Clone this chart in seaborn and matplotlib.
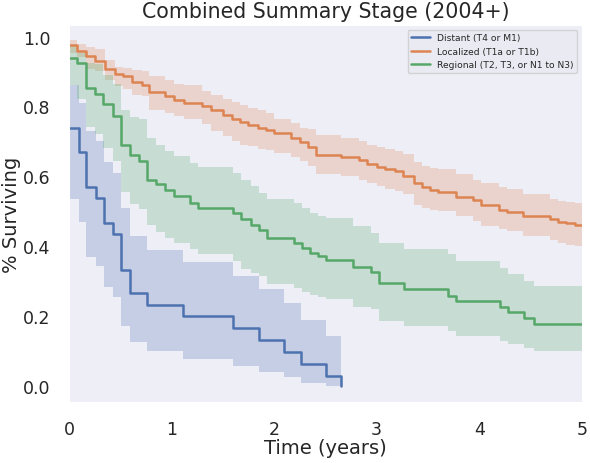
import numpy as np
import pandas as pd
import seaborn as sns
import matplotlib.pyplot as plt

sns.set_style("darkgrid")

stages = ["Distant (T4 or M1)", "Localized (T1a or T1b)", "Regional (T2, T3, or N1 to N3)"]
colors = ["#4C72B0", "#DD8452", "#55A868"]
end_time = 5.0

# Kaplan-Meier steps (time in years, survival, CI bounds)
distant_t = [0, 0.1, 0.17, 0.26, 0.34, 0.43, 0.51, 0.59, 0.76, 1.11, 1.6, 1.85, 2.1, 2.26, 2.51, 2.65]
distant_s = [0.737, 0.669, 0.569, 0.537, 0.466, 0.434, 0.331, 0.266, 0.231, 0.2, 0.166, 0.131, 0.097, 0.063, 0.029, 0.0]
distant_hi = [0.86, 0.81, 0.73, 0.70, 0.64, 0.61, 0.51, 0.43, 0.39, 0.354, 0.314, 0.277, 0.237, 0.189, 0.143, 0.0]
distant_lo = [0.534, 0.47, 0.37, 0.343, 0.283, 0.254, 0.171, 0.126, 0.1, 0.077, 0.057, 0.04, 0.026, 0.009, 0.0, 0.0]

local_t = [0, 0.08, 0.17, 0.25, 0.35, 0.45, 0.53, 0.61, 0.71, 0.78, 0.94, 1.02, 1.12, 1.30, 1.38,
           1.50, 1.59, 1.67, 1.75, 1.84, 1.92, 2.00, 2.16, 2.25, 2.33, 2.41, 2.65, 2.83, 2.91, 3.00,
           3.08, 3.18, 3.26, 3.36, 3.44, 3.52, 3.60, 3.77, 3.94, 4.02, 4.19, 4.27, 4.43, 4.69, 4.77,
           4.85, 4.93]
local_s = [0.977, 0.96, 0.944, 0.93, 0.906, 0.894, 0.886, 0.871, 0.861, 0.841, 0.829, 0.818, 0.811, 0.801, 0.789,
           0.775, 0.765, 0.755, 0.747, 0.739, 0.732, 0.723, 0.709, 0.697, 0.683, 0.661, 0.655, 0.646, 0.634, 0.627,
           0.62, 0.615, 0.601, 0.58, 0.571, 0.561, 0.555, 0.542, 0.532, 0.517, 0.504, 0.499, 0.487, 0.477, 0.47,
           0.466, 0.461]
local_hi = [0.991, 0.98, 0.969, 0.965, 0.932, 0.914, 0.91, 0.904, 0.9, 0.887, 0.877, 0.863, 0.86, 0.844, 0.834,
            0.822, 0.813, 0.804, 0.795, 0.791, 0.782, 0.765, 0.753, 0.739, 0.735, 0.717, 0.71, 0.701, 0.691, 0.685,
            0.677, 0.672, 0.663, 0.642, 0.631, 0.625, 0.622, 0.606, 0.591, 0.58, 0.57, 0.565, 0.549, 0.536, 0.53,
            0.527, 0.525]
local_lo = [0.953, 0.94, 0.906, 0.9, 0.877, 0.858, 0.85, 0.834, 0.83, 0.791, 0.782, 0.772, 0.763, 0.749, 0.73,
            0.715, 0.701, 0.691, 0.687, 0.677, 0.674, 0.668, 0.655, 0.644, 0.63, 0.606, 0.6, 0.59, 0.58, 0.572,
            0.563, 0.558, 0.549, 0.517, 0.51, 0.505, 0.501, 0.487, 0.472, 0.458, 0.45, 0.444, 0.429, 0.418, 0.41,
            0.405, 0.40]

regional_t = [0, 0.08, 0.17, 0.25, 0.33, 0.43, 0.51, 0.59, 0.68, 0.76, 0.85, 0.94, 1.02, 1.18, 1.26, 1.60, 1.68,
              1.77, 1.85, 1.93, 2.19, 2.27, 2.35, 2.43, 2.51, 2.77, 2.94, 3.02, 3.27, 3.70, 3.77, 4.20, 4.28, 4.44,
              4.53]
regional_s = [0.939, 0.925, 0.854, 0.837, 0.806, 0.772, 0.691, 0.66, 0.644, 0.591, 0.577, 0.56, 0.544, 0.525,
              0.509, 0.494, 0.477, 0.46, 0.446, 0.425, 0.41, 0.396, 0.382, 0.372, 0.362, 0.342, 0.327, 0.294,
              0.277, 0.258, 0.244, 0.225, 0.212, 0.196, 0.179]
regional_hi = [0.975, 0.953, 0.925, 0.92, 0.891, 0.863, 0.791, 0.77, 0.763, 0.71, 0.691, 0.672, 0.658, 0.639,
               0.628, 0.61, 0.591, 0.572, 0.553, 0.534, 0.525, 0.51, 0.496, 0.487, 0.482, 0.458, 0.439, 0.41,
               0.393, 0.377, 0.358, 0.339, 0.32, 0.301, 0.285]
regional_lo = [0.86, 0.82, 0.74, 0.72, 0.68, 0.643, 0.554, 0.52, 0.506, 0.46, 0.44, 0.425, 0.41, 0.391, 0.377,
               0.357, 0.334, 0.325, 0.314, 0.291, 0.28, 0.268, 0.26, 0.254, 0.25, 0.225, 0.22, 0.187, 0.172,
               0.158, 0.144, 0.13, 0.12, 0.11, 0.10]


def km_frame(stage, t, s, hi, lo, extend):
    t, s, hi, lo = list(t), list(s), list(hi), list(lo)
    if extend:
        t.append(end_time); s.append(s[-1]); hi.append(hi[-1]); lo.append(lo[-1])
    return pd.DataFrame({"time": t, "surv": s, "hi": hi, "lo": lo, "stage": stage})


df = pd.concat([
    km_frame(stages[0], distant_t, distant_s, distant_hi, distant_lo, False),
    km_frame(stages[1], local_t, local_s, local_hi, local_lo, True),
    km_frame(stages[2], regional_t, regional_s, regional_hi, regional_lo, True),
], ignore_index=True)

fig, ax = plt.subplots(figsize=(5.9, 4.64), dpi=100)
fig.subplots_adjust(left=0.117, right=0.986, top=0.944, bottom=0.131)
ax.set_facecolor("#eeeef6")

sns.lineplot(data=df, x="time", y="surv", hue="stage", hue_order=stages, palette=colors,
             estimator=None, sort=False, drawstyle="steps-post", linewidth=1.8, ax=ax)
for stage, c in zip(stages, colors):
    d = df[df.stage == stage]
    ax.fill_between(d.time, d.lo, d.hi, step="post", color=c, alpha=0.25, lw=0)

ax.grid(False)
ax.set_xlim(0, 5)
ax.set_ylim(-0.046, 1.033)
ax.set_yticks([0.0, 0.2, 0.4, 0.6, 0.8, 1.0])
ax.set_title("Combined Summary Stage (2004+)", fontsize=14.8, pad=6)
ax.set_xlabel("Time (years)", fontsize=14, labelpad=0)
ax.set_ylabel("% Surviving", fontsize=14, labelpad=1)
ax.tick_params(axis="x", labelsize=12.5, pad=9)
ax.tick_params(axis="y", labelsize=12.5, pad=10)
sns.move_legend(ax, "upper right", title=None, fontsize=6.6)

fig.savefig("out.png", dpi=100)
